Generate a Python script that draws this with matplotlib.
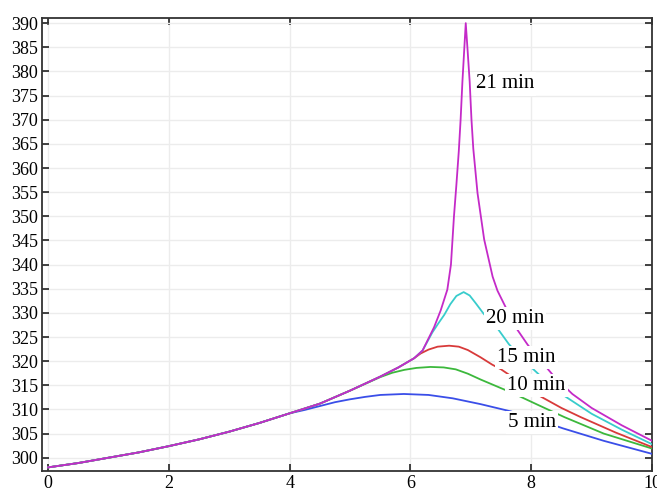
import numpy as np
import matplotlib
matplotlib.use('Agg')
import matplotlib.pyplot as plt

plt.rcParams['font.family'] = ['Liberation Serif', 'DejaVu Serif']

# shared part of the profile (all curves coincide up to x ~ 4)
x_common = [0, 0.5, 1, 1.5, 2, 2.5, 3, 3.5, 4]
t_common = [298.0, 298.9, 300.0, 301.1, 302.4, 303.8, 305.4, 307.2, 309.2]

# the hotter runs still overlap up to x ~ 6
x_mid = [4.5, 5.0, 5.5, 5.8, 6.06]
t_mid = [311.2, 313.9, 316.8, 318.7, 320.6]

# 5 min
x5 = x_common + [4.25, 4.5, 4.75, 5.0, 5.25, 5.5, 5.89, 6.3, 6.7, 7.16, 7.66, 8.1, 8.52, 9.2, 10]
t5 = t_common + [309.9, 310.7, 311.5, 312.1, 312.6, 313.0, 313.2, 313.0, 312.3, 311.1, 309.6,
                 307.9, 306.1, 303.5, 300.8]

# 10 min
x10 = x_common + [4.5, 5.0, 5.5, 5.7, 5.9, 6.1, 6.33, 6.55, 6.75, 6.95, 7.16, 7.5, 7.69, 8.1,
                  8.55, 9.2, 10]
t10 = t_common + [311.2, 313.9, 316.7, 317.6, 318.2, 318.6, 318.8, 318.7, 318.3, 317.4, 316.2,
                  314.4, 313.4, 311.0, 308.4, 305.0, 301.9]

# 15 min
x15 = x_common + x_mid + [6.17, 6.3, 6.45, 6.64, 6.8, 6.95, 7.16, 7.35, 7.5, 7.63, 7.85, 8.08,
                          8.5, 8.82, 9.4, 10]
t15 = t_common + t_mid + [321.6, 322.4, 323.0, 323.2, 323.0, 322.3, 320.8, 319.3, 318.3, 317.2,
                          315.2, 313.2, 310.3, 308.4, 305.2, 302.2]

# 20 min
x20 = x_common + x_mid + [6.2, 6.36, 6.46, 6.56, 6.66, 6.76, 6.88, 6.98, 7.08, 7.2, 7.3, 7.44,
                          7.63, 7.95, 8.13, 8.5, 9.0, 9.5, 10]
t20 = t_common + t_mid + [322.2, 325.9, 327.8, 329.6, 331.8, 333.5, 334.3, 333.6, 332.0, 330.0,
                          328.5, 326.8, 323.5, 319.3, 317.2, 313.2, 309.1, 305.8, 302.8]

# 21 min
x21 = x_common + x_mid + [6.2, 6.39, 6.5, 6.61, 6.67, 6.72, 6.76, 6.8, 6.83, 6.86, 6.89, 6.915,
                          6.945, 6.98, 7.01, 7.04, 7.11, 7.22, 7.36, 7.44, 7.61, 7.77, 7.94, 8.21,
                          8.38, 8.68, 9.0, 9.5, 10]
t21 = t_common + t_mid + [322.2, 327.0, 330.5, 334.8, 340.0, 350.0, 356.5, 363.5, 370.0, 377.9,
                          384.5, 390.0, 384.5, 377.9, 370.0, 364.0, 354.8, 345.2, 337.5, 334.6,
                          330.3, 326.5, 323.4, 319.3, 316.8, 313.2, 310.3, 306.7, 303.5]

series = [
    (x5, t5, '#3a4ee8'),
    (x10, t10, '#3cb83c'),
    (x15, t15, '#d83a3a'),
    (x20, t20, '#38cccc'),
    (x21, t21, '#c42ac8'),
]

labels = ['21 min', '20 min', '15 min', '10 min', '5 min']
label_x = [7.08, 7.25, 7.44, 7.6, 7.61]
label_y = [377.4, 328.8, 320.8, 315.0, 307.3]

fig = plt.figure(figsize=(6.57, 4.95), dpi=100)
ax = fig.add_axes([0.064, 0.048, 0.9285, 0.915])

for xs, ts, c in series:
    ax.plot(xs, ts, color=c, lw=1.3, zorder=3)

for lab, lx, ly in zip(labels, label_x, label_y):
    ax.text(lx, ly, lab, fontsize=15, va='center', ha='left', zorder=5,
            bbox=dict(facecolor='white', edgecolor='none', pad=1.5))

ax.set_xlim(-0.1, 10.0)
ax.set_ylim(297.2, 391.0)
ax.set_xticks([0, 2, 4, 6, 8, 10])
ax.set_yticks(np.arange(300, 391, 5))
ax.grid(True, color='#ececec', lw=1.0, zorder=0)
ax.tick_params(direction='in', length=5, width=1.2, top=True, right=True,
               labelsize=13, colors='#222222', pad=3)
ax.tick_params(labelcolor='black')
for s in ax.spines.values():
    s.set_color('#333333')
    s.set_linewidth(1.3)

fig.savefig('out.png', dpi=100)
